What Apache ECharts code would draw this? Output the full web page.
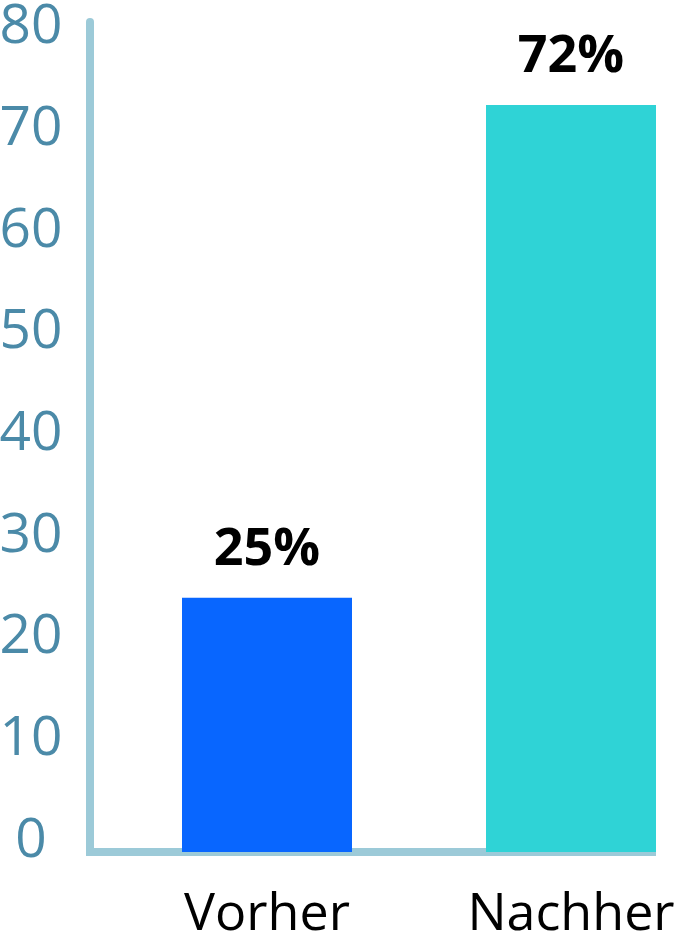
<!DOCTYPE html>
<html><head><meta charset="utf-8">
<script src="https://cdn.jsdelivr.net/npm/echarts@6/dist/echarts.min.js"></script>
<style>html,body{margin:0;padding:0;background:#fff}#c{width:679px;height:949px}</style>
</head><body><div id="c"></div>
<script>
const categories = ['Vorher', 'Nachher'];
const values = [24.5, 72];
const valueLabels = ['25%', '72%'];
const barColors = ['#0866ff', '#2fd3d6'];
const yMin = 0, yMax = 80, yStep = 10;

const chart = echarts.init(document.getElementById('c'));
const FONT = 'Open Sans';
chart.setOption({
  animation: false,
  grid: [
    {left: 90, right: 27, top: 22, bottom: 97, outerBoundsMode: 'none'},
    {left: 115, width: 608, top: 22, bottom: 97, outerBoundsMode: 'none', containLabel: false},
    {left: 90, right: 27, top: 27.5, bottom: 108, outerBoundsMode: 'none'}
  ],
  xAxis: [
    {gridIndex: 0, type: 'category', data: categories, axisLine: {show: true, lineStyle: {color: '#9ccad8', width: 8, cap: 'square'}}, axisTick: {show: false}, axisLabel: {show: false}},
    {gridIndex: 1, type: 'category', data: categories, axisLine: {show: false}, axisTick: {show: false},
      axisLabel: {show: true, color: '#000', fontFamily: FONT, fontSize: 52, margin: 37}},
    {gridIndex: 2, type: 'category', data: categories, show: false}
  ],
  yAxis: [
    {gridIndex: 0, type: 'value', min: yMin, max: yMax, interval: yStep, splitLine: {show: false}, axisTick: {show: false},
      axisLine: {show: true, lineStyle: {color: '#9ccad8', width: 8}}, axisLabel: {show: false}},
    {gridIndex: 1, type: 'value', min: yMin, max: yMax, interval: yStep, show: false},
    {gridIndex: 2, type: 'value', min: yMin, max: yMax, interval: yStep, splitLine: {show: false}, axisTick: {show: false}, axisLine: {show: false},
      axisLabel: {show: true, color: '#4b8aa8', fontFamily: FONT, fontSize: 55, align: 'center', margin: 59}}
  ],
  series: [{
    type: 'bar', xAxisIndex: 1, yAxisIndex: 1, barWidth: 170, z: 5,
    data: values.map((v, i) => ({value: v, itemStyle: {color: barColors[i]}, label: {formatter: valueLabels[i]}})),
    label: {show: true, position: 'top', distance: 22, color: '#000', fontFamily: FONT, fontWeight: 'bold', fontSize: 52}
  }]
});
</script></body></html>
